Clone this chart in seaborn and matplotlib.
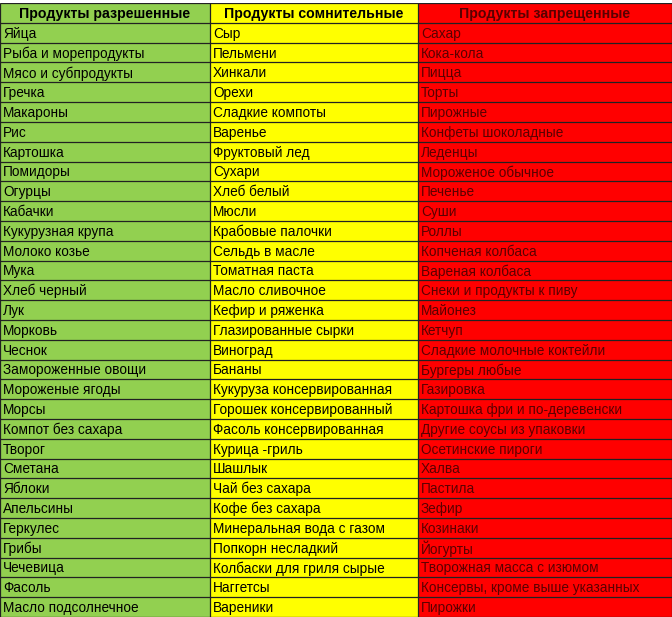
import numpy as np
import seaborn as sns
import matplotlib.pyplot as plt
from matplotlib.colors import ListedColormap

headers = ["Продукты разрешенные", "Продукты сомнительные", "Продукты запрещенные"]

allowed = ["Яйца", "Рыба и морепродукты", "Мясо и субпродукты", "Гречка", "Макароны", "Рис",
           "Картошка", "Помидоры", "Огурцы", "Кабачки", "Кукурузная крупа", "Молоко козье",
           "Мука", "Хлеб черный", "Лук", "Морковь", "Чеснок", "Замороженные овощи",
           "Мороженые ягоды", "Морсы", "Компот без сахара", "Творог", "Сметана", "Яблоки",
           "Апельсины", "Геркулес", "Грибы", "Чечевица", "Фасоль", "Масло подсолнечное"]
doubtful = ["Сыр", "Пельмени", "Хинкали", "Орехи", "Сладкие компоты", "Варенье",
            "Фруктовый лед", "Сухари", "Хлеб белый", "Мюсли", "Крабовые палочки",
            "Сельдь в масле", "Томатная паста", "Масло сливочное", "Кефир и ряженка",
            "Глазированные сырки", "Виноград", "Бананы", "Кукуруза консервированная",
            "Горошек консервированный", "Фасоль консервированная", "Курица -гриль", "Шашлык",
            "Чай без сахара", "Кофе без сахара", "Минеральная вода с газом", "Попкорн несладкий",
            "Колбаски для гриля сырые", "Наггетсы", "Вареники"]
forbidden = ["Сахар", "Кока-кола", "Пицца", "Торты", "Пирожные", "Конфеты шоколадные",
             "Леденцы", "Мороженое обычное", "Печенье", "Суши", "Роллы", "Копченая колбаса",
             "Вареная колбаса", "Снеки и продукты к пиву", "Майонез", "Кетчуп",
             "Сладкие молочные коктейли", "Бургеры любые", "Газировка",
             "Картошка фри и по-деревенски", "Другие соусы из упаковки", "Осетинские пироги",
             "Халва", "Пастила", "Зефир", "Козинаки", "Йогурты", "Творожная масса с изюмом",
             "Консервы, кроме выше указанных", "Пирожки"]

columns = [allowed, doubtful, forbidden]
col_units = [105, 104, 127]          # column widths in 2px units
col_colors = ["#92D050", "#FFFF00", "#FF0000"]
text_colors = ["black", "black", "#5A0000"]

n_rows = len(allowed) + 1
codes = np.concatenate([np.full(w, i) for i, w in enumerate(col_units)])
grid = np.tile(codes, (n_rows, 1))

plt.rcParams["font.family"] = "Liberation Sans"
fig = plt.figure(figsize=(6.72, 6.17), dpi=100)
ax = fig.add_axes([0, 0, 1, 0.995])
sns.heatmap(grid, cmap=ListedColormap(col_colors), cbar=False, ax=ax,
            xticklabels=False, yticklabels=False)

edges = np.cumsum([0] + col_units)
ax.hlines(np.arange(n_rows + 1), 0, edges[-1], color="#222222", lw=0.9)
ax.vlines(edges, 0, n_rows, color="#222222", lw=0.9)

for c, (header, items) in enumerate(zip(headers, columns)):
    ax.text((edges[c] + edges[c + 1]) / 2, 0.55, header, ha="center", va="center",
            fontsize=10.2, fontweight="bold", color=text_colors[c])
    for r, item in enumerate(items, start=1):
        ax.text(edges[c] + 1.5, r + 0.55, item, ha="left", va="center",
                fontsize=9.8, color=text_colors[c])

ax.set_xlim(0, edges[-1])
fig.savefig("out.png", dpi=100)
